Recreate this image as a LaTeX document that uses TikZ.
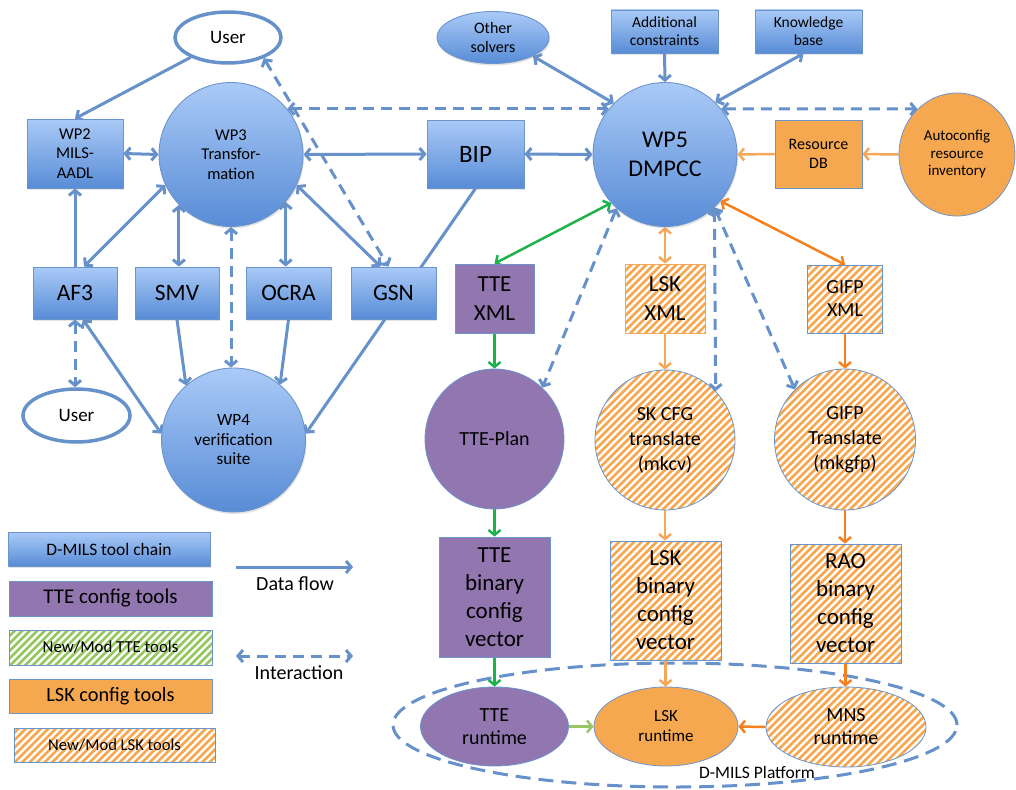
\documentclass[tikz,border=0pt]{standalone}
\usepackage{fontspec}
\setmainfont{Carlito}
\usetikzlibrary{arrows.meta,shapes.geometric,shadows,backgrounds}

\definecolor{bluetop}{RGB}{170,202,247}
\definecolor{bluebot}{RGB}{88,140,214}
\definecolor{bluedraw}{RGB}{108,148,204}
\definecolor{flowblue}{RGB}{102,145,203}
\definecolor{ttepurple}{RGB}{146,118,176}
\definecolor{lskorange}{RGB}{246,168,80}
\definecolor{lightorange}{RGB}{245,168,90}
\definecolor{darkorange}{RGB}{247,128,30}
\definecolor{flowgreen}{RGB}{30,178,76}
\definecolor{lightgreen}{RGB}{155,196,100}
\definecolor{stripegreen}{RGB}{150,200,95}

\tikzset{
  every node/.style={inner sep=0pt, align=center, text=black},
  fz/.style 2 args={font=\fontsize{#1}{#2}\selectfont},
  tool/.style={draw=bluedraw, line width=0.9pt, top color=bluetop, bottom color=bluebot,
    drop shadow={shadow xshift=1pt, shadow yshift=-2pt, opacity=0.22}},
  ttefill/.style={fill=ttepurple, draw=bluedraw, line width=0.8pt},
  lskfill/.style={fill=lskorange, draw=bluedraw, line width=0.8pt},
  % diagonal stripes clipped to the node outline
  stripes/.style={fill=white, path picture={
    \foreach \k in {-24,...,24}
      \draw[draw=#1, line width=2.6pt]
        ([xshift=\k*7.5pt]path picture bounding box.center) ++(-130pt,-130pt) -- ++(260pt,260pt);
  }},
  lskhatch/.style={stripes=lskorange, draw=bluedraw, line width=0.8pt},
  ttehatch/.style={stripes=stripegreen, draw=bluedraw, line width=0.8pt},
  userbox/.style={ellipse, draw=flowblue, line width=3.5pt, fill=white, fz={19}{23}},
  flow/.style={draw=flowblue, line width=3pt},
  inter/.style={flow, dash pattern=on 11pt off 7pt},
  tteflow/.style={draw=flowgreen, line width=2.5pt},
  lskflow/.style={draw=lightorange, line width=2.5pt},
  raoflow/.style={draw=darkorange, line width=2.5pt},
  runflow/.style={draw=lightgreen, line width=2.5pt},
}

\begin{document}
\begin{tikzpicture}[x=1pt, y=-1pt, >={Straight Barb[length=5pt,width=12pt]}]
\useasboundingbox (0,0) rectangle (1016,789);

% ---- D-MILS tool chain ----
\node[userbox, minimum width=106, minimum height=51] (u1) at (228,37.5) {User};
\node[tool, rectangle, minimum width=96, minimum height=69, fz={16.5}{19.5}] (wp2) at (75,153.5) {WP2\\MILS-\\AADL};
\node[tool, ellipse, minimum size=144, fz={16.5}{19.5}] (wp3) at (231,154.5) {WP3\\Transfor-\\mation};
\node[tool, rectangle, minimum width=97, minimum height=68, fz={25}{30}] (bip) at (475.5,154) {BIP};
\node[tool, ellipse, minimum size=144, fz={24}{29}] (wp5) at (665,154.5) {WP5\\DMPCC};
\node[tool, ellipse, minimum width=112, minimum height=52, fz={16}{19}] (os) at (493,37.5) {Other\\solvers};
\node[tool, rectangle, minimum width=107, minimum height=43, fz={15.5}{18}] (ac) at (664.5,31.5) {Additional\\constraints};
\node[tool, rectangle, minimum width=107, minimum height=43, fz={15.5}{18}] (kb) at (808.5,31.5) {Knowledge\\base};
\node[lskfill, rectangle, minimum width=87, minimum height=68, fz={16}{19}] (rdb) at (818.5,154) {Resource\\DB};
\node[lskfill, ellipse, minimum width=116, minimum height=123, fz={15}{17.5}] (auto) at (957,154.5) {Autoconfig\\resource\\inventory};

\node[tool, rectangle, minimum width=84, minimum height=52, fz={23.5}{27}] (af3) at (75,293) {AF3};
\node[tool, rectangle, minimum width=84, minimum height=52, fz={23.5}{27}] (smv) at (177,293) {SMV};
\node[tool, rectangle, minimum width=85, minimum height=52, fz={23.5}{27}] (ocra) at (288.5,293) {OCRA};
\node[tool, rectangle, minimum width=85, minimum height=52, fz={23.5}{27}] (gsn) at (393.5,293) {GSN};
\node[userbox, minimum width=107, minimum height=53] (u2) at (76.5,415.5) {User};
\node[tool, ellipse, minimum size=144, fz={17.2}{19.5}] (wp4) at (233.5,440) {WP4\\verification\\suite};

% ---- TTE configuration ----
\node[ttefill, rectangle, minimum width=79, minimum height=69, fz={23}{29}] (ttex) at (494.5,298.5) {TTE\\XML};
\node[ttefill, ellipse, minimum width=139, minimum height=140, fz={20}{24}] (tp) at (494.5,439) {TTE-Plan};
\node[ttefill, rectangle, minimum width=111, minimum height=120, fz={23}{28}] (tteb) at (494.5,597) {TTE\\binary\\config\\vector};
\node[ttefill, ellipse, minimum width=148, minimum height=79, fz={20}{23.5}] (tter) at (494.5,726.5) {TTE\\runtime};

% ---- LSK configuration ----
\node[lskhatch, draw=lightorange, rectangle, minimum width=80, minimum height=69, fz={23}{29}] (lskx) at (665,298.5) {LSK\\XML};
\node[lskhatch, ellipse, minimum width=140, minimum height=140, fz={20}{25}] (sk) at (665,440) {SK CFG\\translate\\(mkcv)};
\node[lskhatch, rectangle, minimum width=111, minimum height=119, fz={23}{28}] (lskb) at (665.5,600.5) {LSK\\binary\\config\\vector};
\node[lskfill, ellipse, minimum width=144, minimum height=79, fz={17}{20}] (lskr) at (666,726.5) {LSK\\runtime};

% ---- GIFP / RAO configuration ----
\node[lskhatch, rectangle, minimum width=75, minimum height=68, fz={20}{23}] (gx) at (845,299) {GIFP\\XML};
\node[lskhatch, ellipse, minimum width=141, minimum height=141, fz={20}{25}] (gt) at (845,439.5) {GIFP\\Translate\\(mkgfp)};
\node[lskhatch, rectangle, minimum width=111, minimum height=119, fz={23}{28}] (rao) at (845.5,603.5) {RAO\\binary\\config\\vector};
\node[lskhatch, ellipse, minimum width=160, minimum height=80, fz={20}{23}] (mns) at (846,727) {MNS\\runtime};

\node[fz={17.5}{20}] (plat) at (757,772) {D-MILS Platform};

% ---- legend ----
\node[tool, rectangle, minimum width=202, minimum height=34, fz={17.5}{20}] (lg1) at (109,549) {D-MILS tool chain};
\node[ttefill, rectangle, minimum width=203, minimum height=35, fz={21}{24}] (lg2) at (110.5,598.5) {TTE config tools};
\node[ttehatch, rectangle, minimum width=203, minimum height=35, fz={16.8}{20}] (lg3) at (110.5,647.5) {New/Mod TTE tools};
\node[lskfill, rectangle, minimum width=203, minimum height=34, fz={20.3}{24}] (lg4) at (110.5,696) {LSK config tools};
\node[lskhatch, rectangle, minimum width=201, minimum height=34, fz={16.6}{20}] (lg5) at (114.5,745) {New/Mod LSK tools};

\coordinate (df1) at (236,567);
\coordinate (df2) at (353,567);
\node[fz={20}{24}] (dflab) at (295,584) {Data flow};
\coordinate (ia1) at (236,656);
\coordinate (ia2) at (353,656);
\node[fz={20}{24}] (ialab) at (299,673) {Interaction};

\begin{scope}[on background layer]
  % platform boundary
  \draw[flow, dash pattern=on 15pt off 8pt] (675,725) ellipse [x radius=282pt, y radius=62pt];

  % data flow
  \draw[flow,->] (u1.208) -- (wp2.north);
  \draw[flow,<->] (wp2.east) -- (wp3.west);
  \draw[flow,<->] (wp3.east) -- (bip.west);
  \draw[flow,<->] (bip.east) -- (wp5.west);
  \draw[flow,->] (af3.north) -- (wp2.south);
  \draw[flow,<->] (wp3.205) -- ([xshift=9pt]af3.north);
  \draw[flow,<->] (wp3.224) -- (wp3.224 |- smv.north);
  \draw[flow,<->] (wp3.-41) -- (wp3.-41 |- ocra.north);
  \draw[flow,<->] (wp3.-25) -- ([xshift=-13pt]gsn.north);
  \draw[flow,->] (bip.south) -- (wp4.5);
  \draw[flow,->] (smv.south) -- (wp4.131);
  \draw[flow,->] (ocra.south) -- (wp4.50);
  \draw[flow,<->] ([xshift=8pt]af3.south) -- (wp4.175);
  \draw[flow,<->] (os.-25) -- (wp5.135);
  \draw[flow,->] (ac.south) -- (wp5.north);
  \draw[flow,<->] ([xshift=-5pt]kb.south) -- (wp5.46);

  % interaction
  \draw[inter,<->] (wp3.39) -- (wp5.141);
  \draw[inter,<->] (wp5.39) -- (auto.131);
  \draw[inter,<->] (u1.-30) -- ([xshift=-5pt]gsn.north);
  \draw[inter,<->] (wp3.south) -- (wp3.south |- wp4.north);
  \draw[inter,<->] (af3.south) -- (af3.south |- u2.north);
  \draw[inter,<->] (wp5.228) -- (tp.47);
  \draw[inter,<->] (wp5.-47) -- (sk.44);
  \draw[inter,<->] (wp5.-47) -- (gt.135);

  % TTE chain
  \draw[tteflow,<->] (wp5.222) -- (ttex.north);
  \draw[tteflow,->] (ttex.south) -- (tp.north);
  \draw[tteflow,->] (tp.south) -- (tteb.north);
  \draw[tteflow,->] (tteb.south) -- (tter.north);

  % LSK chain
  \draw[lskflow,<->] (wp5.south) -- (wp5.south |- lskx.north);
  \draw[lskflow,->] (lskx.south) -- (sk.north);
  \draw[lskflow,->] (sk.south) -- (sk.south |- lskb.north);
  \draw[lskflow,->] (lskb.south) -- (lskb.south |- lskr.north);
  \draw[lskflow,->] (rdb.west) -- (wp5.east);
  \draw[lskflow,->] (auto.west) -- (rdb.east);

  % GIFP / RAO chain
  \draw[raoflow,<->] (wp5.-40) -- (gx.north);
  \draw[raoflow,->] (gx.south) -- (gt.north);
  \draw[raoflow,->] (gt.south) -- (gt.south |- rao.north);
  \draw[raoflow,->] (rao.south) -- (rao.south |- mns.north);
  \draw[raoflow,->] (mns.west) -- (lskr.east);
  \draw[runflow,->] (tter.east) -- (lskr.west);

  % legend connectors
  \draw[flow,->] (df1) -- (df2);
  \draw[inter,<->] (ia1) -- (ia2);
\end{scope}
\end{tikzpicture}
\end{document}
